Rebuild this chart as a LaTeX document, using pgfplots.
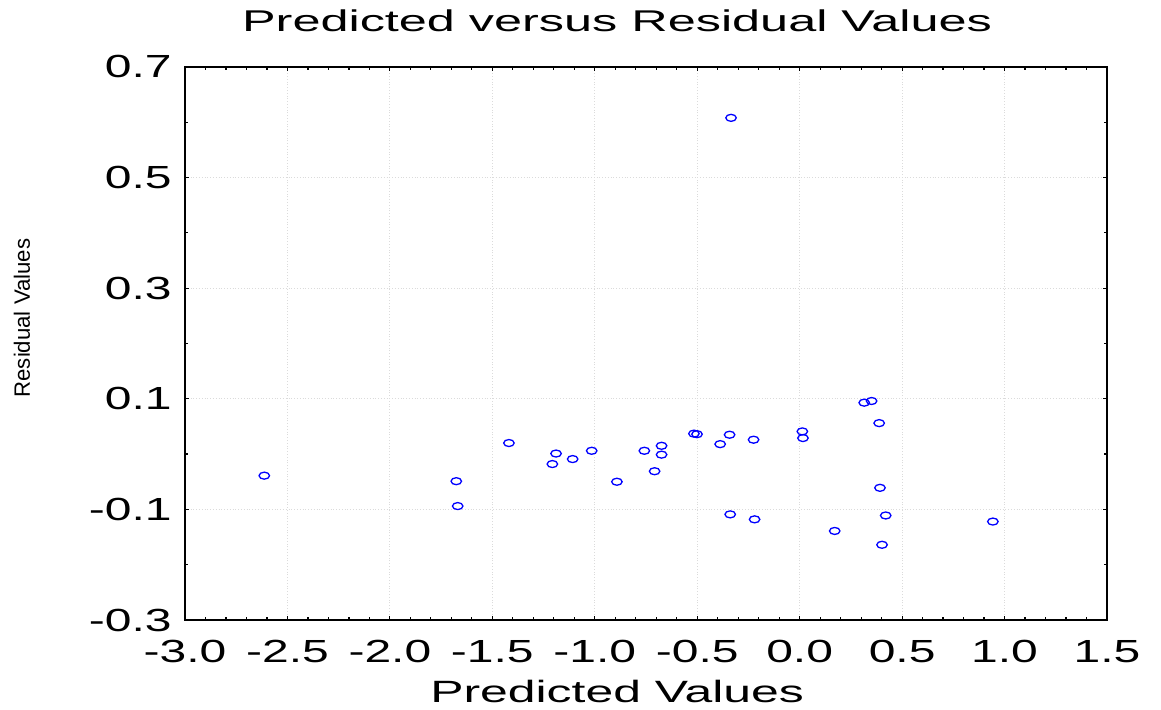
\documentclass[border=0pt]{standalone}
\usepackage{fontspec}
\setmainfont{Liberation Sans}
\newfontfamily\tickfont{Liberation Sans}[FakeStretch=1.5]
\newfontfamily\xlabfont{Liberation Sans}[FakeStretch=1.62]
\newfontfamily\titlefont{Liberation Sans}[FakeStretch=1.68]
\usepackage{pgfplots}
\pgfplotsset{compat=1.18}
\begin{document}
\begin{tikzpicture}
\useasboundingbox (-92.5pt,-45pt) rectangle (488pt,310pt);
\begin{axis}[
  scale only axis,
  width=461pt, height=276.5pt,
  xmin=-3, xmax=1.5, ymin=-0.3, ymax=0.7,
  xtick={-3,-2.5,-2,-1.5,-1,-0.5,0,0.5,1,1.5},
  xticklabels={-3.0,-2.5,-2.0,-1.5,-1.0,-0.5,0.0,0.5,1.0,1.5},
  ytick={-0.3,-0.1,0.1,0.3,0.5,0.7},
  yticklabels={-0.3,-0.1,0.1,0.3,0.5,0.7},
  minor x tick num=4,
  minor y tick num=1,
  tick align=inside,
  major tick length=2pt,
  minor tick length=1.6pt,
  every tick/.style={black, line width=0.6pt},
  axis line style={line width=0.8pt},
  grid=major,
  major grid style={densely dotted, black!14, line width=0.5pt},
  every axis title shift=0pt,
  xticklabel style={font=\tickfont\fontsize{16}{18}\selectfont, anchor=north, inner sep=0pt, yshift=-10pt},
  yticklabel style={font=\tickfont\fontsize{16}{18}\selectfont, anchor=east, inner sep=0pt, xshift=-6.5pt},
  title={Predicted versus Residual Values},
  title style={font=\titlefont\fontsize{15}{17}\selectfont, at={(axis description cs:0.4686,1.083)}, anchor=center, inner sep=0pt},
  xlabel={Predicted Values},
  xlabel style={font=\xlabfont\fontsize{15.4}{17}\selectfont, at={(axis description cs:0.4686,-0.130)}, anchor=center, inner sep=0pt},
  ylabel={Residual Values},
  ylabel style={font=\fontsize{11.1}{13}\selectfont, at={(axis description cs:-0.1768,0.546)}, anchor=center, rotate=0, inner sep=0pt},
]
\addplot[only marks, mark=o, color=blue, mark size=1.75pt, mark options={xscale=1.5, line width=0.65pt}] coordinates {
(-2.613,-0.039) (-1.676,-0.049) (-1.669,-0.094) (-1.419,0.020)
(-1.207,-0.018) (-1.189,0.001) (-1.108,-0.009) (-1.015,0.006)
(-0.892,-0.050) (-0.758,0.006) (-0.708,-0.031) (-0.674,0.015)
(-0.674,-0.001) (-0.516,0.037) (-0.501,0.036) (-0.388,0.018)
(-0.342,0.035) (-0.335,0.608) (-0.339,-0.109) (-0.225,0.026)
(-0.220,-0.118) (0.013,0.041) (0.016,0.029) (0.171,-0.139)
(0.315,0.093) (0.351,0.096) (0.388,0.056) (0.392,-0.061)
(0.402,-0.164) (0.420,-0.111) (0.943,-0.122)
};
\end{axis}
\end{tikzpicture}
\end{document}
